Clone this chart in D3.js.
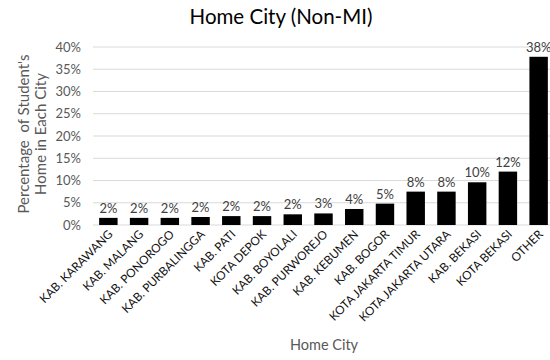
<!DOCTYPE html>
<html>
<head>
<meta charset="utf-8">
<script src="https://cdn.jsdelivr.net/npm/d3@7"></script>
<style>
  html, body { margin: 0; padding: 0; background: #fff; }
  svg { display: block; font-family: Lato, "Open Sans", sans-serif; }
</style>
</head>
<body>
<svg id="chart" width="550" height="360"></svg>
<script>
// Share of students (non-MI) by home city
const cities = [
  "KAB. KARAWANG", "KAB. MALANG", "KAB. PONOROGO", "KAB. PURBALINGGA", "KAB. PATI",
  "KOTA DEPOK", "KAB. BOYOLALI", "KAB. PURWOREJO", "KAB. KEBUMEN", "KAB. BOGOR",
  "KOTA JAKARTA TIMUR", "KOTA JAKARTA UTARA", "KAB. BEKASI", "KOTA BEKASI", "OTHER"
];
const shares = [
  0.016, 0.016, 0.016, 0.018, 0.020,
  0.020, 0.024, 0.026, 0.036, 0.048,
  0.075, 0.075, 0.096, 0.120, 0.378
];
const yTicks = [0, 0.05, 0.10, 0.15, 0.20, 0.25, 0.30, 0.35, 0.40];

const svg = d3.select("#chart");
const margin = { left: 93, right: -4, top: 47, bottom: 135 };
const width = 550, height = 360;

const x = d3.scaleBand()
  .domain(cities)
  .range([margin.left, width - margin.right])
  .paddingInner(0.4)
  .paddingOuter(0.2);

const y = d3.scaleLinear()
  .domain([0, 0.40])
  .range([height - margin.bottom, margin.top]);

const pct = d3.format(".0%");

// gridlines
svg.append("g")
  .selectAll("line")
  .data(yTicks)
  .join("line")
  .attr("x1", margin.left)
  .attr("x2", width)
  .attr("y1", d => y(d))
  .attr("y2", d => y(d))
  .attr("stroke", "#d9d9d9")
  .attr("stroke-width", 1);

// y axis tick labels
const yAxis = d3.axisLeft(y).tickValues(yTicks).tickFormat(pct).tickSize(0).tickPadding(12);
svg.append("g")
  .attr("transform", `translate(${margin.left},0)`)
  .call(yAxis)
  .call(g => g.select(".domain").remove())
  .call(g => g.selectAll("text")
    .attr("font-family", "Lato, 'Open Sans', sans-serif")
    .attr("font-size", 13)
    .attr("fill", "#595959"));

// bars
svg.append("g")
  .selectAll("rect")
  .data(shares)
  .join("rect")
  .attr("x", (d, i) => x(cities[i]))
  .attr("width", x.bandwidth())
  .attr("y", d => y(d))
  .attr("height", d => y(0) - y(d))
  .attr("fill", "#000");

// value labels
svg.append("g")
  .selectAll("text")
  .data(shares)
  .join("text")
  .attr("x", (d, i) => x(cities[i]) + x.bandwidth() / 2)
  .attr("y", d => y(d) - 5)
  .attr("text-anchor", "middle")
  .attr("font-size", 13)
  .attr("fill", "#404040")
  .text(d => pct(d));

// x axis category labels
const xAxis = d3.axisBottom(x).tickSize(0).tickPadding(0);
svg.append("g")
  .attr("transform", `translate(0,${y(0)})`)
  .call(xAxis)
  .call(g => g.select(".domain").remove())
  .call(g => g.selectAll("text")
    .attr("font-family", "Lato, 'Open Sans', sans-serif")
    .attr("font-size", 11.8)
    .attr("fill", "#111")
    .attr("text-anchor", "end")
    .attr("dy", null)
    .attr("transform", "translate(5,10) rotate(-45)"));

// title
svg.append("text")
  .attr("x", 281)
  .attr("y", 24)
  .attr("text-anchor", "middle")
  .attr("font-size", 20.5)
  .attr("fill", "#000")
  .text("Home City (Non-MI)");

// x axis title
svg.append("text")
  .attr("x", 324)
  .attr("y", 350)
  .attr("text-anchor", "middle")
  .attr("font-size", 14.5)
  .attr("fill", "#595959")
  .text("Home City");

// y axis title (two lines)
const yTitle = svg.append("text")
  .attr("transform", `translate(29,${(y(0) + y(0.40)) / 2 - 2}) rotate(-90)`)
  .attr("text-anchor", "middle")
  .attr("font-size", 15)
  .attr("fill", "#595959")
  .style("white-space", "pre");
yTitle.append("tspan").attr("x", 0).attr("dy", 0).text("Percentage  of Student's");
yTitle.append("tspan").attr("x", 0).attr("dy", 17).text("Home in Each City");
</script>
</body>
</html>
